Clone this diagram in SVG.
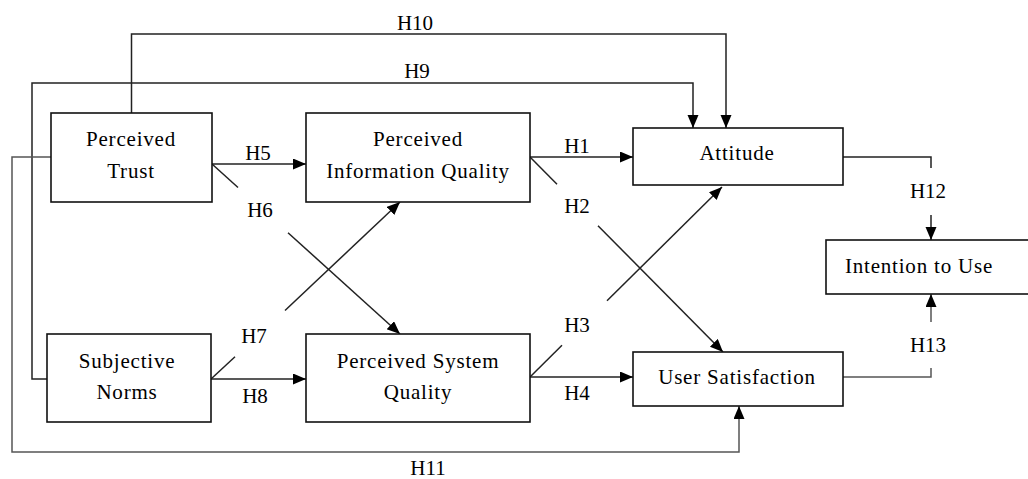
<svg xmlns="http://www.w3.org/2000/svg" width="1028" height="479" viewBox="0 0 1028 479">
<style>
.box{fill:#fff;stroke:#111;stroke-width:1.6}
.t{font-family:"Liberation Serif","Times New Roman",serif;font-size:21px;fill:#000;text-anchor:middle;letter-spacing:0.8px}
.l{font-family:"Liberation Serif","Times New Roman",serif;font-size:21px;fill:#000;text-anchor:middle}
.c{fill:none;stroke:#222;stroke-width:1.5}
.g{stroke:#555}
</style>
<defs>
<marker id="ar" markerUnits="userSpaceOnUse" markerWidth="14" markerHeight="12" refX="13" refY="5.5" orient="auto">
<path d="M0,0 L13,5.5 L0,11 z" fill="#000"/>
</marker>
</defs>
<rect width="1028" height="479" fill="#fff"/>
<g id="connectors">
<path class="c" d="M131.5,113 V34 H726 V128" marker-end="url(#ar)"/>
<path class="c" d="M47,379 H32 V83 H693 V128" marker-end="url(#ar)"/>
<path class="c g" d="M51,157 H12 V452 H739 V406" marker-end="url(#ar)"/>
<path class="c" d="M212,164 H306" marker-end="url(#ar)"/>
<path class="c" d="M212,164 L238,187.5"/>
<path class="c" d="M288,232.7 L400,334" marker-end="url(#ar)"/>
<path class="c" d="M211,379 L235,356.8"/>
<path class="c" d="M285,310.5 L400,202" marker-end="url(#ar)"/>
<path class="c" d="M211,379 H306" marker-end="url(#ar)"/>
<path class="c" d="M530,157 H633" marker-end="url(#ar)"/>
<path class="c" d="M530,157 L557,184.3"/>
<path class="c" d="M598,225.7 L723,352" marker-end="url(#ar)"/>
<path class="c" d="M530,377 L562,345.3"/>
<path class="c" d="M607,300.8 L722,187" marker-end="url(#ar)"/>
<path class="c" d="M530,377 H633" marker-end="url(#ar)"/>
<path class="c" d="M843,157 H931 V168"/>
<path class="c" d="M931,215 V240" marker-end="url(#ar)"/>
<path class="c g" d="M843,377 H931 V368"/>
<path class="c g" d="M931,322 V294" marker-end="url(#ar)"/>
<text class="l" x="415" y="30">H10</text>
<text class="l" x="417" y="78">H9</text>
<text class="l" x="258" y="160">H5</text>
<text class="l" x="260" y="217">H6</text>
<text class="l" x="254" y="343">H7</text>
<text class="l" x="255" y="403">H8</text>
<text class="l" x="577" y="153">H1</text>
<text class="l" x="577" y="213">H2</text>
<text class="l" x="577" y="332">H3</text>
<text class="l" x="577" y="400">H4</text>
<text class="l" x="928" y="198">H12</text>
<text class="l" x="928" y="352">H13</text>
<text class="l" x="428" y="475">H11</text>
</g>
<g id="perceived-trust">
<rect class="box" x="51" y="113" width="161" height="89"/>
<text class="t" x="131" y="146">Perceived</text>
<text class="t" x="131" y="178">Trust</text>
</g>
<g id="perceived-information-quality">
<rect class="box" x="306" y="113" width="224" height="89"/>
<text class="t" x="418" y="146">Perceived</text>
<text class="t" x="418" y="178">Information Quality</text>
</g>
<g id="subjective-norms">
<rect class="box" x="47" y="334" width="164" height="88"/>
<text class="t" x="127" y="368">Subjective</text>
<text class="t" x="127" y="399">Norms</text>
</g>
<g id="perceived-system-quality">
<rect class="box" x="306" y="334" width="224" height="88"/>
<text class="t" x="418" y="368">Perceived System</text>
<text class="t" x="418" y="399">Quality</text>
</g>
<g id="attitude">
<rect class="box" x="633" y="128" width="210" height="57"/>
<text class="t" x="737" y="160">Attitude</text>
</g>
<g id="user-satisfaction">
<rect class="box" x="633" y="352" width="210" height="54"/>
<text class="t" x="737" y="384">User Satisfaction</text>
</g>
<g id="intention-to-use">
<rect class="box" x="826" y="240" width="220" height="54"/>
<text class="t" x="919" y="273">Intention to Use</text>
</g>
</svg>
